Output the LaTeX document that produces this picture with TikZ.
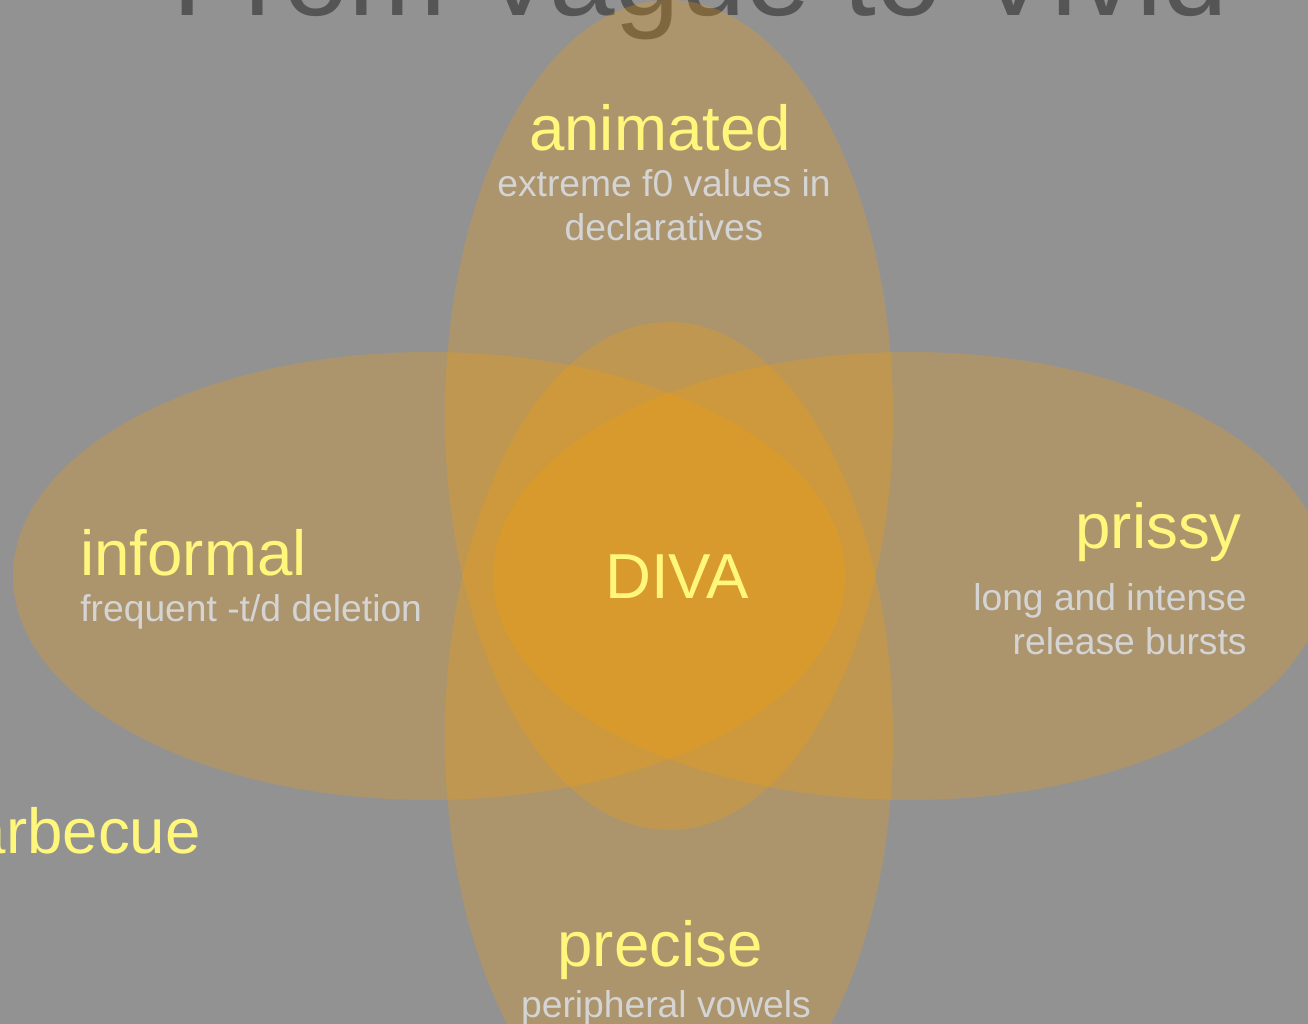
\documentclass[tikz,border=0pt]{standalone}
\usepackage{fontspec}
\setmainfont{Liberation Sans}
\definecolor{backgray}{HTML}{929292}
\definecolor{titlegray}{HTML}{555555}
\definecolor{petalorange}{RGB}{250,160,0}
\definecolor{wordyellow}{HTML}{FFF67C}
\definecolor{glossgray}{HTML}{D4D4D4}
\begin{document}
\begin{tikzpicture}[x=0.02cm,y=0.02cm,
  petal/.style={fill=petalorange,fill opacity=.25},
  word/.style={text=wordyellow,inner sep=0,font=\fontsize{36.2}{43}\selectfont},
  gloss/.style={text=glossgray,inner sep=0,font=\fontsize{21.2}{25.6}\selectfont}]
   \useasboundingbox (0,0) rectangle (1308,1024);
   \clip (0,0) rectangle (1308,1024);
   \fill[backgray] (0,0) rectangle (1308,1024);
   \node[anchor=base,inner sep=0,text=titlegray,font=\fontsize{67}{80}\selectfont] (title) at (700,1008) {From Vague to Vivid};
   % the four petals
   \path[petal] (669,609) ellipse [x radius=224,y radius=415];
   \path[petal] (669,287) ellipse [x radius=224,y radius=415];
   \path[petal] (429,448) ellipse [x radius=416,y radius=224];
   \path[petal] (909,448) ellipse [x radius=416,y radius=224];
   \node[word,anchor=base] (animated) at (660,873) {animated};
   \node[gloss,anchor=base,align=center] (animatedgloss) at (664,783) {extreme f0 values in\\declaratives};
   \node[word,anchor=base west] (informal) at (80,448) {informal};
   \node[gloss,anchor=base west] (informalgloss) at (80,402) {frequent -t/d deletion};
   \node[word,anchor=base east] (prissy) at (1242,475) {prissy};
   \node[gloss,anchor=base east,align=right] (prissygloss) at (1247,369) {long and intense\\release bursts};
   \node[word,anchor=base] (precise) at (660,57) {precise};
   \node[gloss,anchor=base] (precisegloss) at (666,6) {peripheral vowels};
   \node[word,anchor=base] (diva) at (677,425) {DIVA};
   \node[word,anchor=base east] (barbecue) at (201,170) {barbecue};
\end{tikzpicture}
\end{document}
